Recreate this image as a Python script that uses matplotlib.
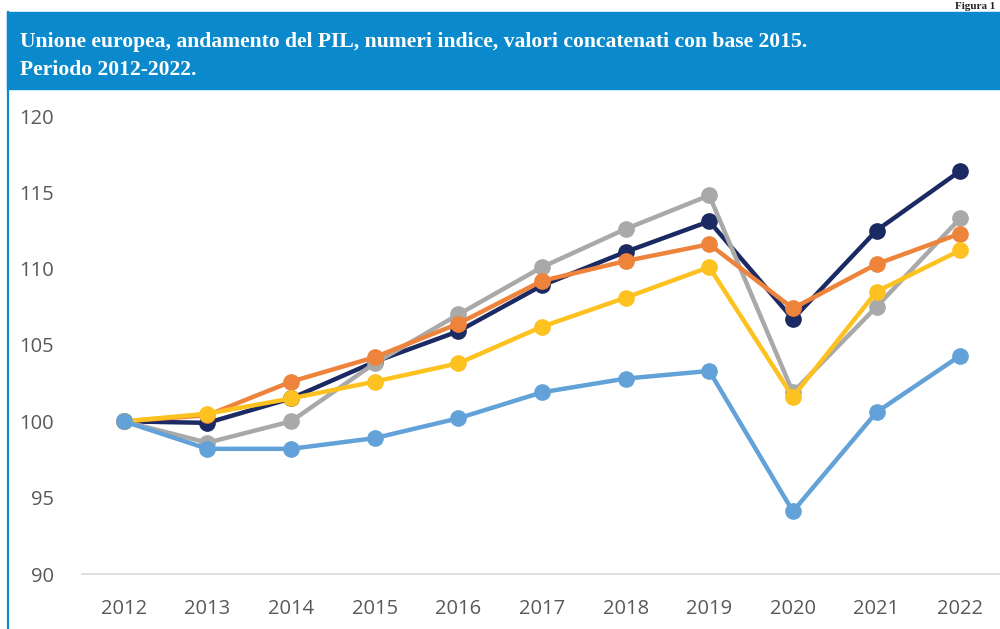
import matplotlib.pyplot as plt
from matplotlib.patches import Rectangle
from matplotlib.lines import Line2D

years = [2012, 2013, 2014, 2015, 2016, 2017, 2018, 2019, 2020, 2021, 2022]

# GDP index, chain-linked values (base 2015)
ue = [100.0, 99.9, 101.5, 103.9, 105.9, 108.9, 111.1, 113.1, 106.7, 112.5, 116.4]
spagna = [100.0, 98.6, 100.0, 103.8, 107.0, 110.1, 112.6, 114.8, 101.9, 107.5, 113.3]
germania = [100.0, 100.4, 102.6, 104.2, 106.4, 109.2, 110.5, 111.6, 107.4, 110.3, 112.3]
francia = [100.0, 100.5, 101.5, 102.6, 103.8, 106.2, 108.1, 110.1, 101.6, 108.5, 111.2]
italia = [100.0, 98.2, 98.2, 98.9, 100.2, 101.9, 102.8, 103.3, 94.1, 100.6, 104.3]

series = [
    (ue, '#1c2a63'),
    (spagna, '#a9a9a9'),
    (germania, '#ee833c'),
    (francia, '#fdc220'),
    (italia, '#62a2d9'),
]

y_ticks = [90, 95, 100, 105, 110, 115, 120]

fig = plt.figure(figsize=(10, 6.29), dpi=100)

# blue title banner and left border
fig.patches.append(Rectangle((0.007, 1 - 89 / 629), 0.993, 77 / 629,
                             transform=fig.transFigure, color='#0a8acd', zorder=0))
fig.lines.append(Line2D([0.0075, 0.0075], [0, 1 - 12 / 629], transform=fig.transFigure,
                        color='#0a8acd', linewidth=1.6))

title_font = dict(color='white', fontsize=15.6, fontweight='bold',
                  family='Liberation Serif', va='center')
fig.text(0.02, 1 - 42 / 629,
         'Unione europea, andamento del PIL, numeri indice, valori concatenati con base 2015.',
         **title_font)
fig.text(0.02, 1 - 70 / 629, 'Periodo 2012-2022.', **title_font)
fig.text(0.995, 1 - 11 / 629, 'Figura 1', color='#222222', fontsize=8, fontweight='bold',
         family='Liberation Serif', ha='right', va='bottom')

ax = fig.add_axes([0.082, 1 - 574 / 629, 0.92, (574 - 116) / 629])

for values, color in series:
    ax.plot(years, values, color=color, linewidth=3.2, marker='o',
            markersize=11, solid_capstyle='round', clip_on=False)

ax.set_xlim(2011.5, 2022.5)
ax.set_ylim(90, 120)
ax.set_xticks(years)
ax.set_yticks(y_ticks)

for side in ['top', 'right', 'left']:
    ax.spines[side].set_visible(False)
ax.spines['bottom'].set_color('#d9d9d9')
ax.spines['bottom'].set_linewidth(1.2)

ax.tick_params(axis='both', length=0, labelsize=14.5, labelcolor='#595959')
ax.tick_params(axis='y', pad=20)
ax.tick_params(axis='x', pad=18)
for lbl in ax.get_xticklabels() + ax.get_yticklabels():
    lbl.set_family('Open Sans')

fig.savefig('out.png', dpi=100)
